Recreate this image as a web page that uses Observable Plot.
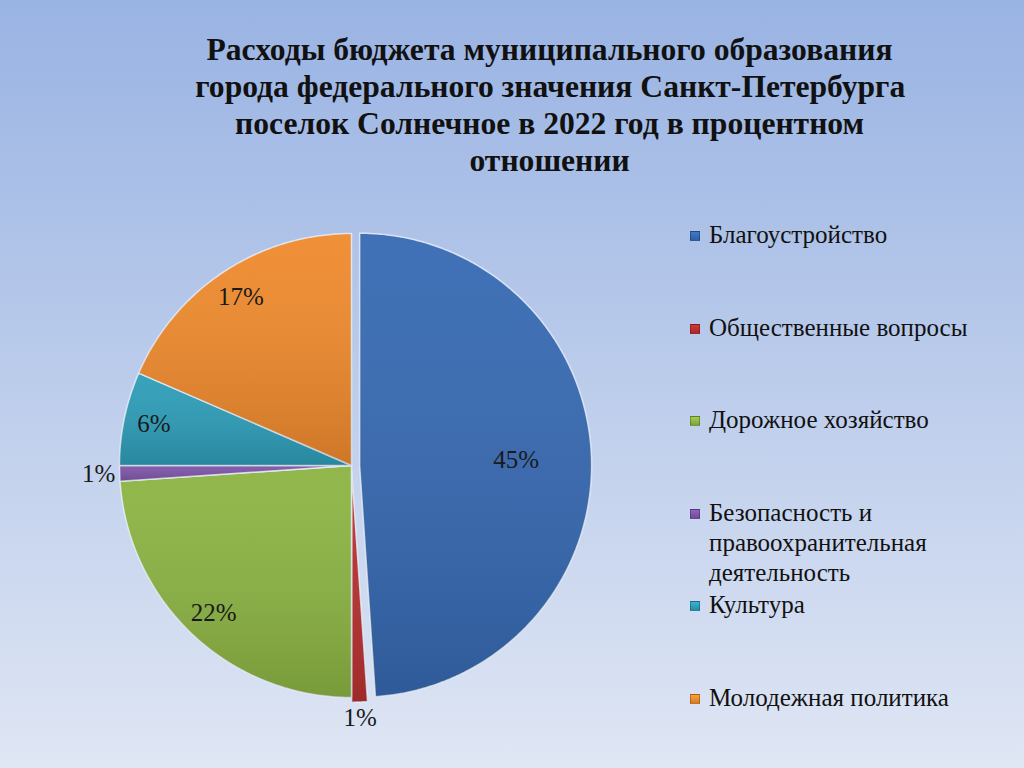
<!DOCTYPE html>
<html><head><meta charset="utf-8">
<script src="https://cdn.jsdelivr.net/npm/d3@7"></script>
<script src="https://cdn.jsdelivr.net/npm/@observablehq/plot@0.6"></script>
<style>
html,body{margin:0;padding:0;}
body{width:1024px;height:768px;position:relative;overflow:hidden;background:linear-gradient(#99b3e3,#dfe6f4);font-family:"Liberation Serif","Times New Roman",serif;}
#title{position:absolute;left:150px;width:800px;top:31px;text-align:center;font-weight:bold;font-size:31px;line-height:37px;color:#111;}
#title span{display:inline-block;white-space:nowrap;}
#chart{position:absolute;left:0;top:0;}
.item{position:absolute;left:709px;font-size:25px;line-height:30px;color:#111;width:320px;}
.sw{position:absolute;left:-19px;top:11px;width:10px;height:10px;box-sizing:border-box;border:1px solid rgba(0,0,0,0.25);}
</style></head>
<body>
<div id="title"></div>
<div id="chart"></div>
<div id="legend"></div>
<script>
const titleLines = ["Расходы бюджета муниципального образования","города федерального значения Санкт-Петербурга","поселок Солнечное в 2022 год в процентном","отношении"];
const categories = ["Благоустройство","Общественные вопросы","Дорожное хозяйство","Безопасность и правоохранительная деятельность","Культура","Молодежная политика"];
const legendLines = [["Благоустройство"],["Общественные вопросы"],["Дорожное хозяйство"],["Безопасность и","правоохранительная","деятельность"],["Культура"],["Молодежная политика"]];
const shares = [45,1,22,1,6,17];
const labels = ["45%","1%","22%","1%","6%","17%"];

// styling
const colors = ["#3669b2","#b93030","#8cb443","#7d55a8","#2d9db8","#ef8a2d"];
const pulled = [0.035,0.02,0,0,0,0];

// title
const tdiv = document.getElementById("title");
titleLines.forEach((l,i)=>{const s=document.createElement("span");s.textContent=l;tdiv.appendChild(s);if(i<titleLines.length-1)tdiv.appendChild(document.createElement("br"));});
const w1 = tdiv.querySelector("span").getBoundingClientRect().width;
tdiv.querySelectorAll("span").forEach(s=>{s.style.transform=`scaleX(${686/w1})`;});

// pie geometry from data
const arcs = d3.pie().sort(null).value(d=>d)(shares);
const pts = [], lbls = [];
arcs.forEach((a,i)=>{
  const cat = categories[i];
  const mid = (a.startAngle+a.endAngle)/2;
  const ox = pulled[i]*Math.sin(mid), oy = pulled[i]*Math.cos(mid);
  pts.push({cat, x:ox, y:oy});
  const n = Math.max(2, Math.ceil((a.endAngle-a.startAngle)/0.01));
  for(let k=0;k<=n;k++){const t=a.startAngle+(a.endAngle-a.startAngle)*k/n; pts.push({cat, x:ox+Math.sin(t), y:oy+Math.cos(t)});}
  const r = shares[i] > 30 ? 0.71 : shares[i] < 3 ? 1.09 : 0.87;
  lbls.push({t:labels[i], x:r*Math.sin(mid), y:r*Math.cos(mid)});
});

const chart = Plot.plot({
  width:1024, height:768, margin:0,
  x:{domain:[-1,1], range:[119,583], axis:null},
  y:{domain:[-1,1], range:[697,233], axis:null},
  color:{domain:categories, range:colors},
  style:{background:"transparent", overflow:"visible"},
  marks:[
    Plot.line(pts,{x:"x",y:"y",z:"cat",fill:"cat",stroke:"#e8eef8",strokeOpacity:0.85,strokeWidth:1.5,curve:"linear-closed"}),
    Plot.line(pts,{x:"x",y:"y",z:"cat",fill:"url(#shade)",stroke:"none",curve:"linear-closed"}),
    Plot.text(lbls,{x:"x",y:"y",text:"t",fontSize:25,fontFamily:"Liberation Serif",fill:"#1a1a1a"})
  ]
});
const defs = d3.select(chart).insert("defs",":first-child");
const g = defs.append("linearGradient").attr("id","shade").attr("x1",0).attr("y1",0).attr("x2",0).attr("y2",1);
g.append("stop").attr("offset","0%").attr("stop-color","white").attr("stop-opacity",0.05);
g.append("stop").attr("offset","100%").attr("stop-color","black").attr("stop-opacity",0.14);
document.getElementById("chart").appendChild(chart);

// legend
const leg = document.getElementById("legend");
legendLines.forEach((lines,i)=>{
  const d=document.createElement("div");d.className="item";d.style.top=(220+i*92.6)+"px";
  d.innerHTML=lines.join("<br>");
  const sw=document.createElement("div");sw.className="sw";sw.style.background=`linear-gradient(${d3.color(colors[i]).brighter(0.4)},${d3.color(colors[i]).darker(0.3)})`;
  d.appendChild(sw);leg.appendChild(d);
});
</script>
</body></html>
